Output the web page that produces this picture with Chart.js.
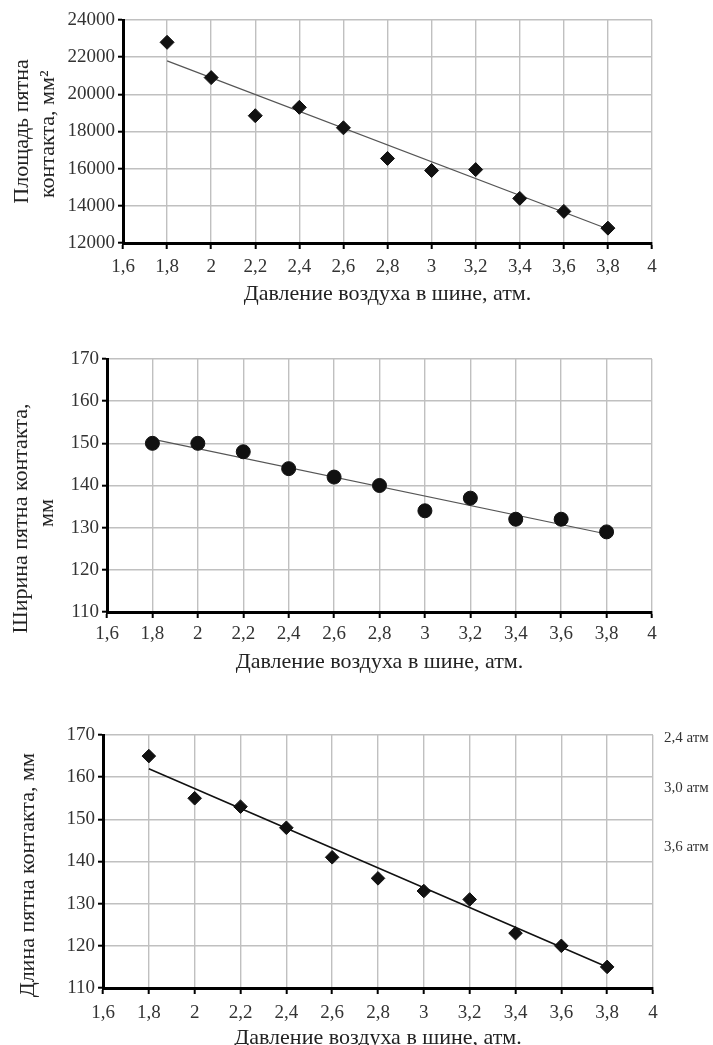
<!DOCTYPE html>
<html>
<head>
<meta charset="utf-8">
<script src="https://cdn.jsdelivr.net/npm/chart.js@4.4.0/dist/chart.umd.min.js"></script>
<style>
html, body { margin: 0; padding: 0; background: #fff; overflow: hidden; }
.box { position: absolute; left: 0; width: 713px; }
</style>
</head>
<body>
<div class="box" style="top:0;height:315px"><canvas id="areaChart"></canvas></div>
<div class="box" style="top:335px;height:345px"><canvas id="widthChart"></canvas></div>
<div class="box" style="top:715px;height:340px"><canvas id="lengthChart"></canvas></div>
<script>
// давление в шине, атм
const pressure = [1.8, 2, 2.2, 2.4, 2.6, 2.8, 3, 3.2, 3.4, 3.6, 3.8];
// площадь пятна контакта, мм2
const areaValues = [22800, 20900, 18850, 19300, 18200, 16550, 15900, 15950, 14400, 13700, 12800];
// ширина пятна контакта, мм
const widthValues = [150, 150, 148, 144, 142, 140, 134, 137, 132, 132, 129];
// длина пятна контакта, мм
const lengthValues = [165, 155, 153, 148, 141, 136, 133, 131, 123, 120, 115];

// линии тренда (концы)
const trendX = [1.8, 3.8];
const areaTrend = [21800, 12750];
const widthTrend = [151, 128.5];
const lengthTrend = [162, 115];

const xTitle = 'Давление воздуха в шине, атм.';
const sideLabels = ['2,4 атм', '3,0 атм', '3,6 атм'];

const FONT = '"Liberation Serif", "Times New Roman", serif';
const GRID = '#c0c0c0';
// подпись оси Y в оригинале сдвинута вниз - добиваем неразрывными пробелами
const pad = (n) => '\u00a0'.repeat(n);

const decimalComma = (v) => String(Math.round(v * 10) / 10).replace('.', ',');

const sideLabelsPlugin = {
    id: 'sideLabels',
    afterDraw(chart) {
        const ctx = chart.ctx;
        const area = chart.chartArea;
        const offsets = [3, 53, 112];
        ctx.save();
        ctx.font = '15px ' + FONT;
        ctx.fillStyle = '#333';
        ctx.textBaseline = 'middle';
        sideLabels.forEach((t, i) => ctx.fillText(t, area.right + 11, area.top + offsets[i]));
        ctx.restore();
    }
};

const buildChart = (id, o) => {
    return new Chart(document.getElementById(id), {
        type: 'scatter',
        data: {
            datasets: [
                {
                    label: 'data',
                    data: pressure.map((x, i) => ({ x, y: o.values[i] })),
                    pointStyle: o.pointStyle,
                    pointRadius: o.radius,
                    backgroundColor: '#111',
                    borderColor: '#111',
                    borderWidth: 1
                },
                {
                    label: 'trend',
                    type: 'line',
                    data: trendX.map((x, i) => ({ x, y: o.trend[i] })),
                    borderColor: o.trendColor,
                    borderWidth: o.trendWidth,
                    pointRadius: 0,
                    fill: false
                }
            ]
        },
        options: {
            animation: false,
            responsive: true,
            maintainAspectRatio: false,
            layout: { padding: { top: o.top, right: o.right, left: 0, bottom: 0 } },
            plugins: { legend: { display: false }, tooltip: { enabled: false } },
            scales: {
                x: {
                    type: 'linear',
                    min: 1.6,
                    max: 4,
                    ticks: {
                        stepSize: 0.2,
                        autoSkip: false,
                        maxRotation: 0,
                        padding: o.xTickPad,
                        color: '#333',
                        font: { family: FONT, size: 19 },
                        callback: decimalComma
                    },
                    grid: { color: GRID, lineWidth: 1.4, tickColor: '#000', tickLength: 6, tickWidth: 2 },
                    border: { color: '#000', width: 3 },
                    title: {
                        display: true,
                        text: xTitle,
                        color: '#222',
                        font: { family: FONT, size: 22 },
                        padding: { top: 0, bottom: o.xTitlePad }
                    },
                    afterFit: (s) => { s.height = o.xHeight; }
                },
                y: {
                    type: 'linear',
                    min: o.yMin,
                    max: o.yMax,
                    ticks: {
                        stepSize: o.yStep,
                        padding: 3,
                        color: '#333',
                        font: { family: FONT, size: 19 },
                        callback: (v) => (v % o.labelStep === 0 ? String(v) : '')
                    },
                    grid: {
                        color: GRID,
                        lineWidth: 1.4,
                        tickLength: 5,
                        tickWidth: 2,
                        tickColor: (c) => (c.tick && c.tick.value % o.labelStep === 0 ? '#000' : 'rgba(0,0,0,0)')
                    },
                    border: { color: '#000', width: 3 },
                    title: {
                        display: true,
                        text: o.yTitle,
                        color: '#222',
                        font: { family: FONT, size: 22, lineHeight: 1.2 },
                        padding: { top: o.yTitlePad, bottom: 0 }
                    },
                    afterFit: (s) => { s.width = o.yWidth; }
                }
            }
        },
        plugins: o.plugins || []
    });
};

buildChart('areaChart', {
    values: areaValues, trend: areaTrend,
    pointStyle: 'rectRot', radius: 7, trendColor: '#555', trendWidth: 1.2,
    yMin: 12000, yMax: 24000, yStep: 2000, labelStep: 2000,
    yTitle: ['Площадь пятна', 'контакта, мм²' + pad(1)],
    top: 20, right: 61, yWidth: 123, xHeight: 72, xTitlePad: 8, yTitlePad: 9, xTickPad: 7
});

buildChart('widthChart', {
    values: widthValues, trend: widthTrend,
    pointStyle: 'circle', radius: 7, trendColor: '#555', trendWidth: 1.2,
    yMin: 110, yMax: 170, yStep: 5, labelStep: 10,
    yTitle: ['Ширина пятна контакта,' + pad(12), 'мм' + pad(10)],
    top: 24, right: 61, yWidth: 107, xHeight: 68, xTitlePad: 5, yTitlePad: 8, xTickPad: 5
});

buildChart('lengthChart', {
    values: lengthValues, trend: lengthTrend,
    pointStyle: 'rectRot', radius: 6.8, trendColor: '#111', trendWidth: 1.6,
    yMin: 110, yMax: 170, yStep: 5, labelStep: 10,
    yTitle: 'Длина пятна контакта, мм' + pad(5),
    top: 20, right: 60, yWidth: 103, xHeight: 67, xTitlePad: 4, yTitlePad: 15, xTickPad: 8,
    plugins: [sideLabelsPlugin]
});
</script>
</body>
</html>
